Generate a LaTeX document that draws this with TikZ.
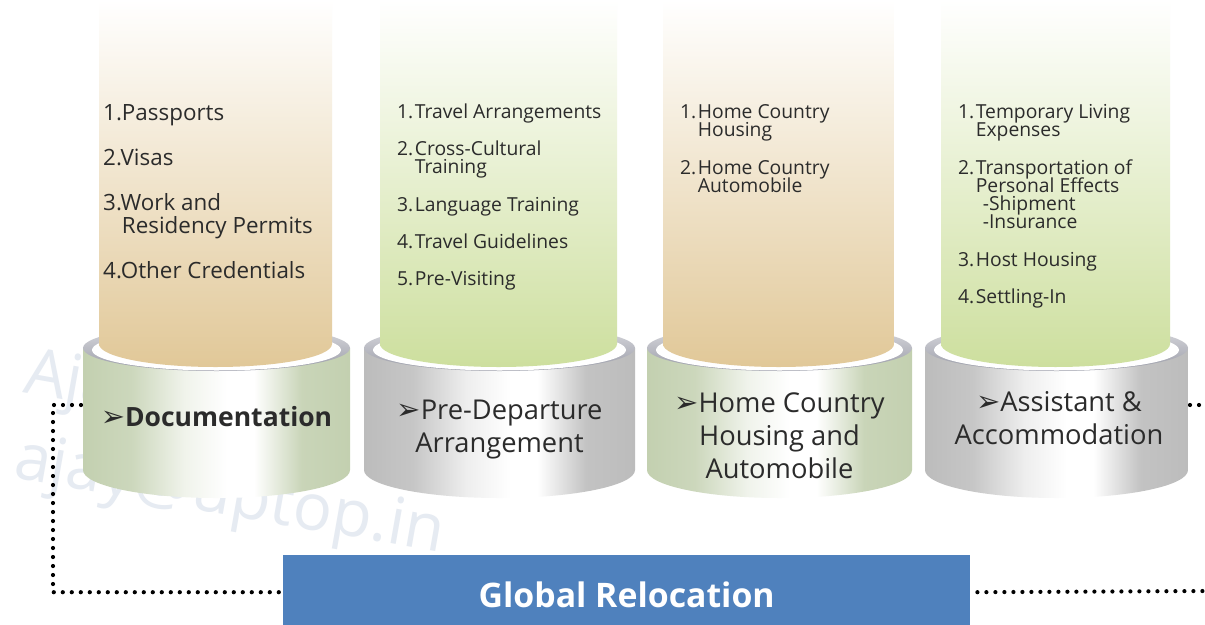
\documentclass[tikz,border=0pt]{standalone}
\usepackage{fontspec}
\setmainfont{Open Sans}
\newfontfamily\dv{DejaVu Sans}
\usetikzlibrary{calc}
\definecolor{tanC}{HTML}{E1C898}
\definecolor{grnC}{HTML}{CDDF9E}
\definecolor{gEdge}{HTML}{C3D0B0}
\definecolor{grEdge}{HTML}{BCBCBC}
\definecolor{rimTop}{HTML}{DCDCE0}
\definecolor{rimBot}{HTML}{9A9CA8}
\definecolor{boxBlue}{HTML}{4F81BD}
\definecolor{txt}{HTML}{2B2B2B}
\definecolor{wm}{HTML}{E6EBF2}
\pgfdeclarehorizontalshading{bodyG}{100bp}{color(0bp)=(gEdge); color(25bp)=(gEdge); color(34bp)=(gEdge!85!white); color(44bp)=(gEdge!25!white); color(52bp)=(white); color(57bp)=(white); color(66bp)=(gEdge!90!white); color(75bp)=(gEdge); color(100bp)=(gEdge)}
\pgfdeclarehorizontalshading{bodyR}{100bp}{color(0bp)=(grEdge); color(25bp)=(grEdge); color(34bp)=(grEdge!85!white); color(44bp)=(grEdge!25!white); color(52bp)=(white); color(57bp)=(white); color(66bp)=(grEdge!90!white); color(75bp)=(grEdge); color(100bp)=(grEdge)}
\newcommand\arr{{\dv\fontsize{29}{29}\selectfont ➢}}
\newcommand\tightlines{\lineskiplimit=-50pt\lineskip=0pt}
% #1 L, #2 R, #3 body shading, #4 column colour
\newcommand\cylinder[4]{%
  \pgfmathsetmacro\cyX{(#1+#2)/2}%
  \pgfmathsetmacro\cyR{(#2-#1)/2}%
  \shade[shading=#3] (#1,348) -- (#1,470) arc[start angle=180,end angle=0,x radius=\cyR,y radius=28] -- (#2,348) -- cycle;
  \shade[top color=rimTop, bottom color=rimBot] (\cyX,348) ellipse[x radius=\cyR, y radius=23];
  \fill[white] (\cyX,350) ellipse[x radius=\cyR-9, y radius=20.5];
  \pgfmathsetmacro\colL{#1+16}%
  \pgfmathsetmacro\colR{#2-18}%
  \pgfmathsetmacro\colRx{(\colR-\colL)/2}%
  \shade[top color=white, bottom color=#4] (\colL,0) -- (\colL,344) arc[start angle=180,end angle=0,x radius=\colRx,y radius=23] -- (\colR,0) -- cycle;
}
\newcommand\ind[1]{\phantom{#1}}
\tikzset{
  itemtext/.style={anchor=base west, text=txt, inner sep=0pt, align=left},
  lbl/.style={anchor=base, text=txt, inner sep=0pt, align=center, font=\fontsize{27.3}{33}\selectfont\tightlines},
  dotline/.style={line width=4.2pt, line cap=round, dash pattern=on 0pt off 9pt},
  watermark/.style={anchor=base west, text=wm, rotate=-10, inner sep=0pt, font=\fontsize{65}{65}\selectfont}
}
\begin{document}
\begin{tikzpicture}[x=1pt,y=-1pt]
\useasboundingbox (0,0) rectangle (1205,624);
\fill[white] (0,0) rectangle (1205,624);
% watermark
\node[watermark] (wm1) at (22,392) {Ajay};
\node[watermark] (wm2) at (12,477) {ajay@uptop.in};
% cylinders
\cylinder{83}{350}{bodyG}{tanC}
\cylinder{364}{635}{bodyR}{grnC}
\cylinder{647}{912}{bodyG}{tanC}
\cylinder{925}{1188}{bodyR}{grnC}
% column texts (anchor = baseline of the last line)
\node[itemtext, font=\fontsize{22.4}{23}\selectfont\tightlines] (c1) at (103,278) {1.Passports\\[22pt]
2.Visas\\[22pt]
3.Work and\\
\ind{3.}Residency Permits\\[22pt]
4.Other Credentials};
\node[itemtext, font=\fontsize{19.3}{18}\selectfont\tightlines] (c2) at (397,285) {1.\hspace{1.5pt}Travel Arrangements\\[19pt]
2.\hspace{1.5pt}Cross-Cultural\\
\ind{2.}\hspace{1.5pt}Training\\[20pt]
3.\hspace{1.5pt}Language Training\\[19pt]
4.\hspace{1.5pt}Travel Guidelines\\[19pt]
5.\hspace{1.5pt}Pre-Visiting};
\node[itemtext, font=\fontsize{19.3}{18}\selectfont\tightlines] (c3) at (680,192) {1.\hspace{1.5pt}Home Country\\
\ind{1.}\hspace{1.5pt}Housing\\[20pt]
2.\hspace{1.5pt}Home Country\\
\ind{2.}\hspace{1.5pt}Automobile};
\node[itemtext, font=\fontsize{19.3}{18}\selectfont\tightlines] (c4) at (958,303) {1.\hspace{1.5pt}Temporary Living\\
\ind{1.}\hspace{1.5pt}Expenses\\[20pt]
2.\hspace{1.5pt}Transportation of\\
\ind{2.}\hspace{1.5pt}Personal Effects\\
\ind{2.}\hspace{8.5pt}-Shipment\\
\ind{2.}\hspace{8.5pt}-Insurance\\[20pt]
3.\hspace{1.5pt}Host Housing\\[19pt]
4.\hspace{1.5pt}Settling-In};
% base labels
\node[lbl, font=\fontsize{26.5}{33}\selectfont\bfseries] (l1) at (216.5,426) {\arr Documentation};
\node[lbl] (l2) at (499.5,452) {\arr Pre-Departure\\Arrangement};
\node[lbl] (l3) at (779.5,478) {\arr Home Country\\Housing and\\Automobile};
\node[lbl] (l4) at (1059,444) {\arr Assistant \&\\Accommodation};
% bottom box
\node[fill=boxBlue, anchor=north west, minimum width=687pt, minimum height=72pt, inner sep=0pt] (gr) at (283,555) {};
\node[anchor=base, text=white, inner sep=0pt, font=\fontsize{33.8}{34}\selectfont\bfseries] (grt) at ($(gr.north)+(0,52)$) {Global Relocation};
% connectors
\coordinate (b1W) at (81,405);
\coordinate (b4E) at (1190,405);
\coordinate (eR1) at (1208,405);
\coordinate (eR2) at (1208,591);
\coordinate (cL) at (53,405);
\draw[dotline] (b1W) -- (cL) |- ($(gr.west)+(-4,1)$);
\draw[dotline] (b4E) -- (eR1);
\draw[dotline] ($(gr.east)+(7,1)$) -- (eR2);
\end{tikzpicture}
\end{document}
